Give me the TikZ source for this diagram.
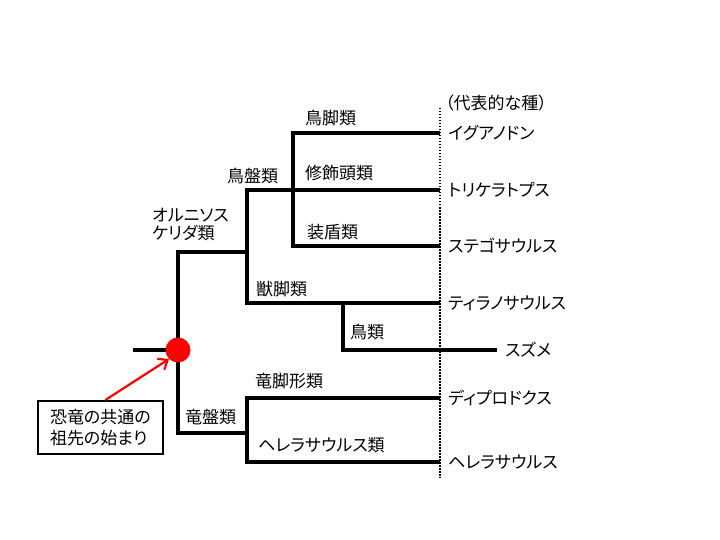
\documentclass[tikz,border=0pt]{standalone}
\usepackage{fontspec}
\setmainfont{Noto Sans CJK JP}[RawFeature={+palt}]
\usetikzlibrary{arrows.meta}
\begin{document}
\begin{tikzpicture}[x=1pt,y=-1pt,
  br/.style={line width=4.5pt, line join=miter},
  lab/.style={font=\fontsize{17}{21}\selectfont, inner sep=0pt, anchor=west},
  guide/.style={line width=2pt, dash pattern=on 1.5pt off 1.5pt}]
\useasboundingbox (0,0) rectangle (720,540);
% junction coordinates
\coordinate (r0) at (133,350);
\coordinate (root) at (178,350);
\coordinate (rt) at (178,252);
\coordinate (rb) at (178,433);
\coordinate (o) at (247,252);
\coordinate (ot) at (247,190);
\coordinate (ob) at (247,303);
\coordinate (ornt) at (293,133);
\coordinate (ornb) at (293,246);
\coordinate (th) at (343,303);
\coordinate (thb) at (343,350);
\coordinate (s) at (247,433);
\coordinate (st) at (247,398);
\coordinate (sb) at (247,462);
% branch ends
\coordinate (eigu) at (440,133);
\coordinate (etri) at (440,190);
\coordinate (este) at (440,246);
\coordinate (etyr) at (440,303);
\coordinate (esuz) at (497,350);
\coordinate (edip) at (440,398);
\coordinate (eher) at (440,462);
\coordinate (gtop) at (440,108);
\coordinate (gbot) at (440,478);
% guide line
\draw[guide] (gtop) -- (gbot);
% tree
\draw[br] (r0) -- (root);
\draw[br] (o) -- (rt) -- (rb) -- (s);
\draw[br] (etri) -- (ot) -- (ob) -- (etyr);
\draw[br] (eigu) -- (ornt) -- (ornb) -- (este);
\draw[br] (th) -- (thb) -- (esuz);
\draw[br] (edip) -- (st) -- (sb) -- (eher);
% ancestor
\node[circle, fill=red, minimum size=25pt, inner sep=0pt] (anc) at (root) {};
\node[draw, line width=1.8pt, minimum width=125pt, minimum height=53pt, anchor=north west,
      align=left, font=\fontsize{17}{21}\selectfont, inner sep=0pt] (box) at (37,400)
      {恐竜の共通の\\祖先の始まり};
\draw[red, line width=2.2pt, -{Straight Barb[length=8pt,width=13pt]}]
  ([xshift=5pt]box.north) -- (anc.225);
% clade labels
\node[lab] (l1) at (305,118) {鳥脚類};
\node[lab] (l2) at (305,173) {修飾頭類};
\node[lab] (l3) at (307,232) {装盾類};
\node[lab] (l4) at (227,176) {鳥盤類};
\node[lab, align=left, font=\fontsize{17}{18}\selectfont] (l5) at (152,225) {オルニソス\\ケリダ類};
\node[lab] (l6) at (256,289) {獣脚類};
\node[lab] (l7) at (350,332) {鳥類};
\node[lab] (l8) at (255,381) {竜脚形類};
\node[lab] (l9) at (258,445) {ヘレラサウルス類};
\node[lab] (l10) at (185,417) {竜盤類};
% species
\node[lab] (hd) at (445,103) {（代表的な種）};
\node[lab] (s1) at (448,133) {イグアノドン};
\node[lab] (s2) at (448,190) {トリケラトプス};
\node[lab] (s3) at (448,246) {ステゴサウルス};
\node[lab] (s4) at (448,303) {ティラノサウルス};
\node[lab] (s5) at (505,350) {スズメ};
\node[lab] (s6) at (448,398) {ディプロドクス};
\node[lab] (s7) at (448,462) {ヘレラサウルス};
\end{tikzpicture}
\end{document}
